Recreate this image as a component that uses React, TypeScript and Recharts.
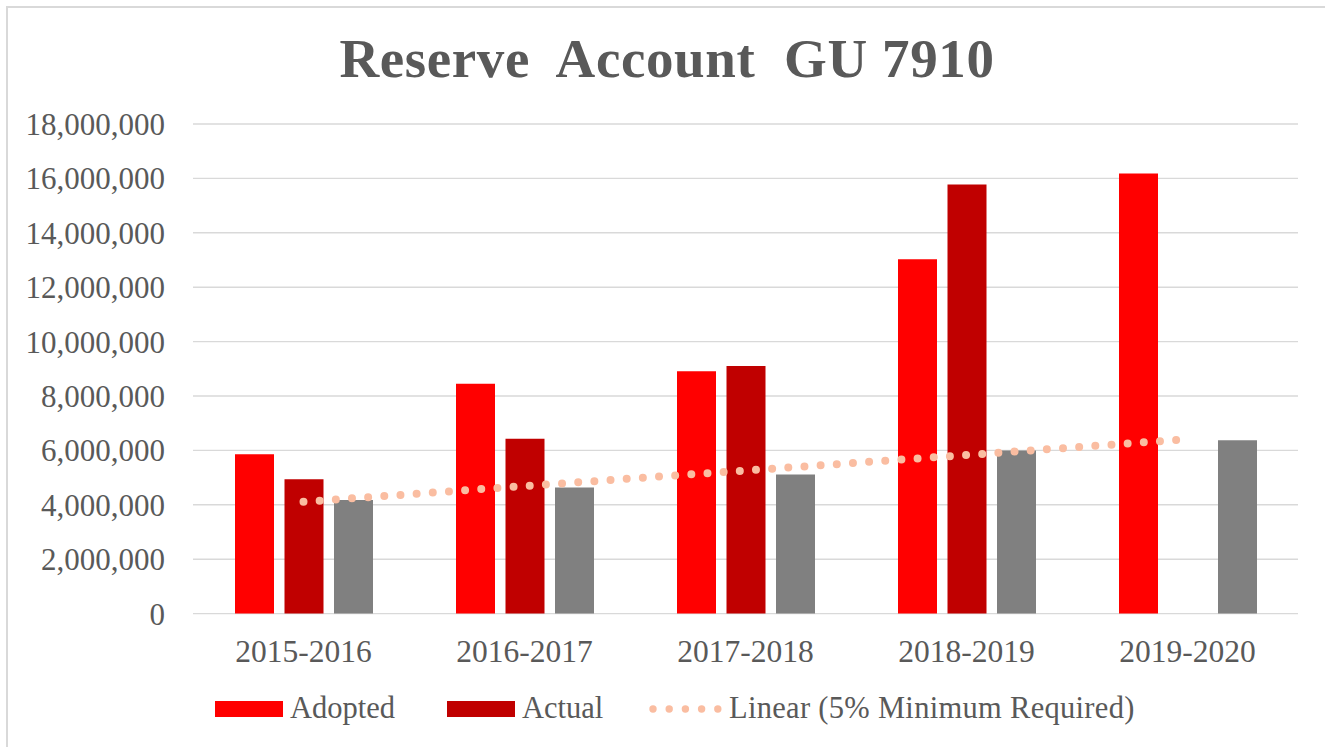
import { ComposedChart, Bar, Line, XAxis, YAxis, CartesianGrid } from 'recharts'

const years = ['2015-2016', '2016-2017', '2017-2018', '2018-2019', '2019-2020']
const adopted = [5860000, 8450000, 8910000, 13030000, 16180000]
const actual: (number | null)[] = [4940000, 6430000, 9100000, 15780000, null]
const minimum = [4180000, 4640000, 5110000, 6000000, 6370000]
// trendline of the 5% minimum
const trend = [4110000, 4690000, 5260000, 5830000, 6410000]
const yTicks = [0, 2000000, 4000000, 6000000, 8000000, 10000000, 12000000, 14000000, 16000000, 18000000]

const FONT = '"Liberation Serif", serif'
const TEXT = '#595959'

const data = years.map((year, i) => ({
  year,
  adopted: adopted[i],
  actual: actual[i],
  minimum: minimum[i],
  trend: trend[i],
}))

function ChartLegend() {
  return (
    <svg width={1325} height={747} style={{ position: 'absolute', left: 0, top: 0, pointerEvents: 'none' }}>
      <text
        x={667}
        y={77}
        textAnchor="middle"
        fontFamily={FONT}
        fontWeight="bold"
        fontSize={55}
        letterSpacing={0.6}
        fill={TEXT}
        style={{ whiteSpace: 'pre' }}
      >
        {'Reserve  Account  GU 7910'}
      </text>
      <rect x={215} y={701} width={68} height={16} fill="#FF0000" />
      <text x={290} y={718} fontFamily={FONT} fontSize={30.5} fill={TEXT}>Adopted</text>
      <rect x={447} y={701} width={68} height={16} fill="#C00000" />
      <text x={522} y={718} fontFamily={FONT} fontSize={30.5} fill={TEXT}>Actual</text>
      {[0, 1, 2, 3, 4].map((i) => (
        <circle key={i} cx={653 + i * 16.2} cy={709} r={3.7} fill="#FABDA1" />
      ))}
      <text x={729} y={718} fontFamily={FONT} fontSize={30.5} letterSpacing={0.3} fill={TEXT}>
        Linear (5% Minimum Required)
      </text>
    </svg>
  )
}

export default function App() {
  return (
    <div style={{ position: 'absolute', left: 0, top: 0, width: 1325, height: 747, overflow: 'hidden', background: '#fff' }}>
      <div
        style={{
          position: 'absolute',
          left: 6,
          top: 6,
          width: 1340,
          height: 760,
          border: '2px solid #D9D9D9',
        }}
      />
      <ComposedChart
        width={1325}
        height={747}
        data={data}
        margin={{ top: 124, right: 27, bottom: 0, left: 0 }}
        barCategoryGap={42}
        barGap={10.5}
        style={{ position: 'absolute', left: 0, top: 0 }}
      >
        <CartesianGrid vertical={false} stroke="#D9D9D9" strokeWidth={1.4} />
        <XAxis
          dataKey="year"
          height={133.4}
          axisLine={false}
          tickLine={false}
          tickSize={0}
          tickMargin={26}
          tick={{ fill: TEXT, fontSize: 31.5, fontFamily: FONT }}
        />
        <YAxis
          width={193}
          domain={[0, 18000000]}
          ticks={yTicks}
          interval={0}
          axisLine={false}
          tickLine={false}
          tickSize={0}
          tickMargin={28}
          tickFormatter={(v: number) => v.toLocaleString('en-US')}
          tick={{ fill: TEXT, fontSize: 31, fontFamily: FONT }}
        />
        <Bar dataKey="adopted" name="Adopted" fill="#FF0000" isAnimationActive={false} />
        <Bar dataKey="actual" name="Actual" fill="#C00000" isAnimationActive={false} />
        <Bar dataKey="minimum" name="5% Minimum Required" fill="#808080" isAnimationActive={false} />
        <Line
          dataKey="trend"
          name="Linear (5% Minimum Required)"
          stroke="#FABDA1"
          strokeWidth={8}
          strokeLinecap="round"
          strokeDasharray="0 16.2"
          dot={false}
          activeDot={false}
          isAnimationActive={false}
        />
      </ComposedChart>
      <ChartLegend />
    </div>
  )
}
